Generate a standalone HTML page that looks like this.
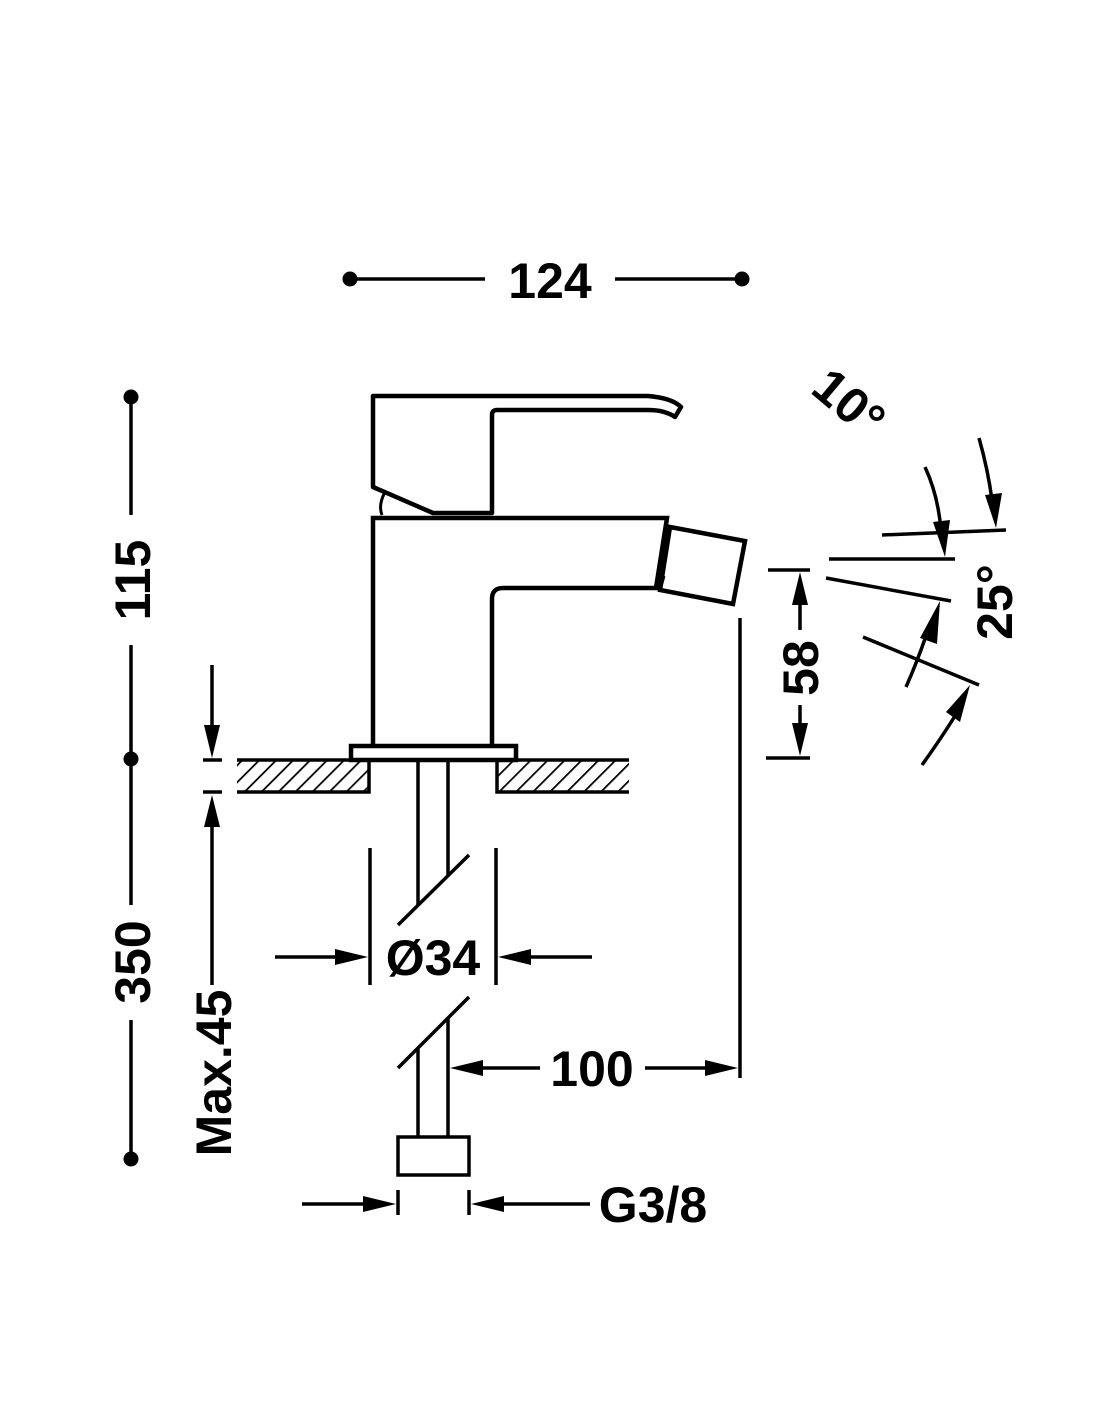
<!DOCTYPE html>
<html><head><meta charset="utf-8"><style>
html,body{margin:0;padding:0;background:#fff}
svg{display:block}
text{font-family:"Liberation Sans",Arial,sans-serif;font-weight:bold;fill:#000}
</style></head><body>
<svg width="1100" height="1422" viewBox="0 0 1100 1422" xmlns="http://www.w3.org/2000/svg">
<defs>
<pattern id="h" width="12" height="12" patternUnits="userSpaceOnUse" patternTransform="rotate(45)">
<line x1="0" y1="0" x2="0" y2="12" stroke="#000" stroke-width="3.5"/>
</pattern>
</defs>
<rect width="1100" height="1422" fill="#fff"/>
<g stroke="#000" stroke-width="3.5" fill="none">
<line x1="350" y1="279" x2="485" y2="279"/><line x1="615" y1="279" x2="742" y2="279"/>
<line x1="131" y1="397" x2="131" y2="515"/><line x1="131" y1="645" x2="131" y2="905"/><line x1="131" y1="1020" x2="131" y2="1159"/>
<line x1="212" y1="665" x2="212" y2="735"/><line x1="203" y1="760" x2="222" y2="760"/><line x1="203" y1="792" x2="222" y2="792"/><line x1="212" y1="815" x2="212" y2="985"/>
<path d="M373 487 L373 396 L648 396 Q672 398 681 407 L675 417 Q665 410 648 410 L497 410 Q492 410 492 415 L492 513 L433 513 Z" stroke-width="4.5" stroke-linejoin="round"/>
<path d="M382 515 Q378 505 385 492" stroke-width="3"/>
<path d="M373 746 L373 518 L667 518 L656 588 L503 588 Q492 588 492 599 L492 746" stroke-width="4.5"/>
<path d="M670 527 L745 541 L733 604 L660 590 Z" stroke-width="4.5"/>
<path d="M666 540 L660 572 M664 576 L660 590" stroke-width="3"/>
<rect x="351" y="746" width="165" height="14" stroke-width="4.5"/>
<rect x="237" y="760" width="132" height="32" fill="url(#h)" stroke="none"/>
<rect x="497" y="760" width="132" height="32" fill="url(#h)" stroke="none"/>
<path d="M237 760 L369 760 L369 792 L237 792 M629 760 L497 760 L497 792 L629 792"/>
<line x1="418" y1="762" x2="418" y2="905"/><line x1="448" y1="762" x2="448" y2="876"/>
<line x1="398" y1="925" x2="469" y2="855"/>
<line x1="398" y1="1068" x2="469" y2="997"/>
<line x1="418" y1="1049" x2="418" y2="1137"/><line x1="448" y1="1019" x2="448" y2="1137"/>
<rect x="398" y="1137" width="71" height="38"/>
<line x1="370" y1="848" x2="370" y2="985"/><line x1="496" y1="848" x2="496" y2="985"/>
<line x1="275" y1="957" x2="345" y2="957"/><line x1="525" y1="957" x2="592" y2="957"/>
<line x1="740" y1="618" x2="740" y2="1078"/>
<line x1="470" y1="1068" x2="540" y2="1068"/><line x1="645" y1="1068" x2="710" y2="1068"/>
<line x1="398" y1="1190" x2="398" y2="1215"/><line x1="469" y1="1190" x2="469" y2="1215"/>
<line x1="302" y1="1204" x2="370" y2="1204"/><line x1="497" y1="1204" x2="590" y2="1204"/>
<line x1="768" y1="570" x2="810" y2="570"/><line x1="766" y1="758" x2="810" y2="758"/>
<line x1="800" y1="600" x2="800" y2="630"/><line x1="800" y1="705" x2="800" y2="730"/>
<line x1="882" y1="535" x2="1006" y2="530"/>
<line x1="829" y1="559" x2="955" y2="559"/>
<line x1="826" y1="578" x2="951" y2="601"/>
<line x1="863" y1="637" x2="979" y2="685"/>
<path d="M925 467 Q938 495 941 530"/>
<path d="M979 438 Q988 470 992 500"/>
<path d="M906 687 Q918 660 928 630"/>
<path d="M922 765 Q940 740 955 716"/>
</g>
<g fill="#000">
<circle cx="350" cy="279" r="7.5"/><circle cx="742" cy="279" r="7.5"/>
<circle cx="131" cy="397" r="7.5"/><circle cx="131" cy="759" r="7.5"/><circle cx="131" cy="1159" r="7.5"/>
<polygon points="204,725 220,725 212,758"/>
<polygon points="204,827 220,827 212,795"/>
<polygon points="335,949 335,965 368,957"/>
<polygon points="531,949 531,965 498,957"/>
<polygon points="483,1060 483,1076 450,1068"/>
<polygon points="705,1060 705,1076 738,1068"/>
<polygon points="363,1196 363,1212 396,1204"/>
<polygon points="504,1196 504,1212 471,1204"/>
<polygon points="792,605 808,605 800,572"/>
<polygon points="792,723 808,723 800,756"/>
<polygon points="933,522 950,520 945,557"/>
<polygon points="985,495 1002,493 996,528"/>
<polygon points="920,638 937,644 940,601"/>
<polygon points="946,712 960,722 970,685"/>
</g>
<g font-size="50">
<text x="550" y="298" text-anchor="middle">124</text>
<text x="592" y="1086" text-anchor="middle">100</text>
<text x="433" y="975" text-anchor="middle">Ø34</text>
<text x="653" y="1222" text-anchor="middle">G3/8</text>
<text transform="translate(150,580) rotate(-90)" text-anchor="middle">115</text>
<text transform="translate(150,962) rotate(-90)" text-anchor="middle">350</text>
<text transform="translate(231,1073) rotate(-90)" text-anchor="middle">Max.45</text>
<text transform="translate(818,668) rotate(-90)" text-anchor="middle">58</text>
<text transform="translate(1012,602) rotate(-90)" text-anchor="middle" font-size="50">25°</text>
<text transform="translate(838,416) rotate(40)" text-anchor="middle" font-size="50">10°</text>
</g>
</svg>
</body></html>
